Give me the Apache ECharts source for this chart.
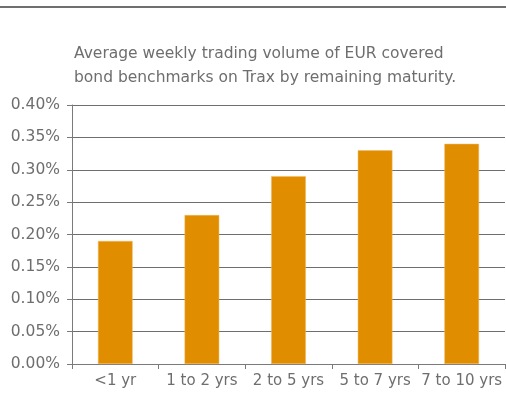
<!DOCTYPE html>
<html><head><meta charset="utf-8">
<script src="https://cdn.jsdelivr.net/npm/echarts@6/dist/echarts.min.js"></script>
<style>html,body{margin:0;padding:0;background:#fff}#c{width:506px;height:406px}</style>
</head><body><div id="c"></div>
<script>
const categories = ['<1 yr', '1 to 2 yrs', '2 to 5 yrs', '5 to 7 yrs', '7 to 10 yrs'];
const values = [0.19, 0.23, 0.29, 0.33, 0.34];
const yTicks = [0, 0.05, 0.10, 0.15, 0.20, 0.25, 0.30, 0.35, 0.40];
const titleLines = ['Average weekly trading volume of EUR covered', 'bond benchmarks on Trax by remaining maturity.'];

const font = '"DejaVu Sans"';
const chart = echarts.init(document.getElementById('c'), null, {renderer: 'canvas'});
chart.setOption({
  animation: false,
  backgroundColor: '#fff',
  graphic: [
    {type: 'line', shape: {x1: 0, y1: 7, x2: 506, y2: 7}, style: {stroke: '#6f6f6f', lineWidth: 2}},
    {type: 'text', left: 74, top: 42, style: {text: titleLines.join('\n'), font: '15.5px ' + font, fill: '#6e6e6e', lineHeight: 24}}
  ],
  grid: {left: 72, right: 1, top: 105, bottom: 42},
  xAxis: {
    type: 'category', data: categories,
    axisLine: {lineStyle: {color: '#7a7a7a', width: 1}},
    axisTick: {show: true, length: 5, lineStyle: {color: '#7a7a7a'}},
    axisLabel: {color: '#6e6e6e', fontSize: 15, fontFamily: font, margin: 10, interval: 0}
  },
  yAxis: {
    type: 'value', min: 0, max: yTicks[yTicks.length - 1], interval: 0.05,
    axisLine: {show: true, lineStyle: {color: '#7a7a7a'}},
    axisTick: {show: true, length: 5, inside: false, lineStyle: {color: '#7a7a7a'}},
    axisLabel: {color: '#6e6e6e', fontSize: 15.5, fontFamily: font, margin: 12,
      formatter: v => v.toFixed(2) + '%'},
    splitLine: {lineStyle: {color: '#6e6e6e', width: 1}}
  },
  series: [{
    type: 'bar', data: values, barWidth: '40%',
    itemStyle: {color: '#E08E00', borderColor: '#F0B860', borderWidth: 0.5}
  }]
});
</script></body></html>
